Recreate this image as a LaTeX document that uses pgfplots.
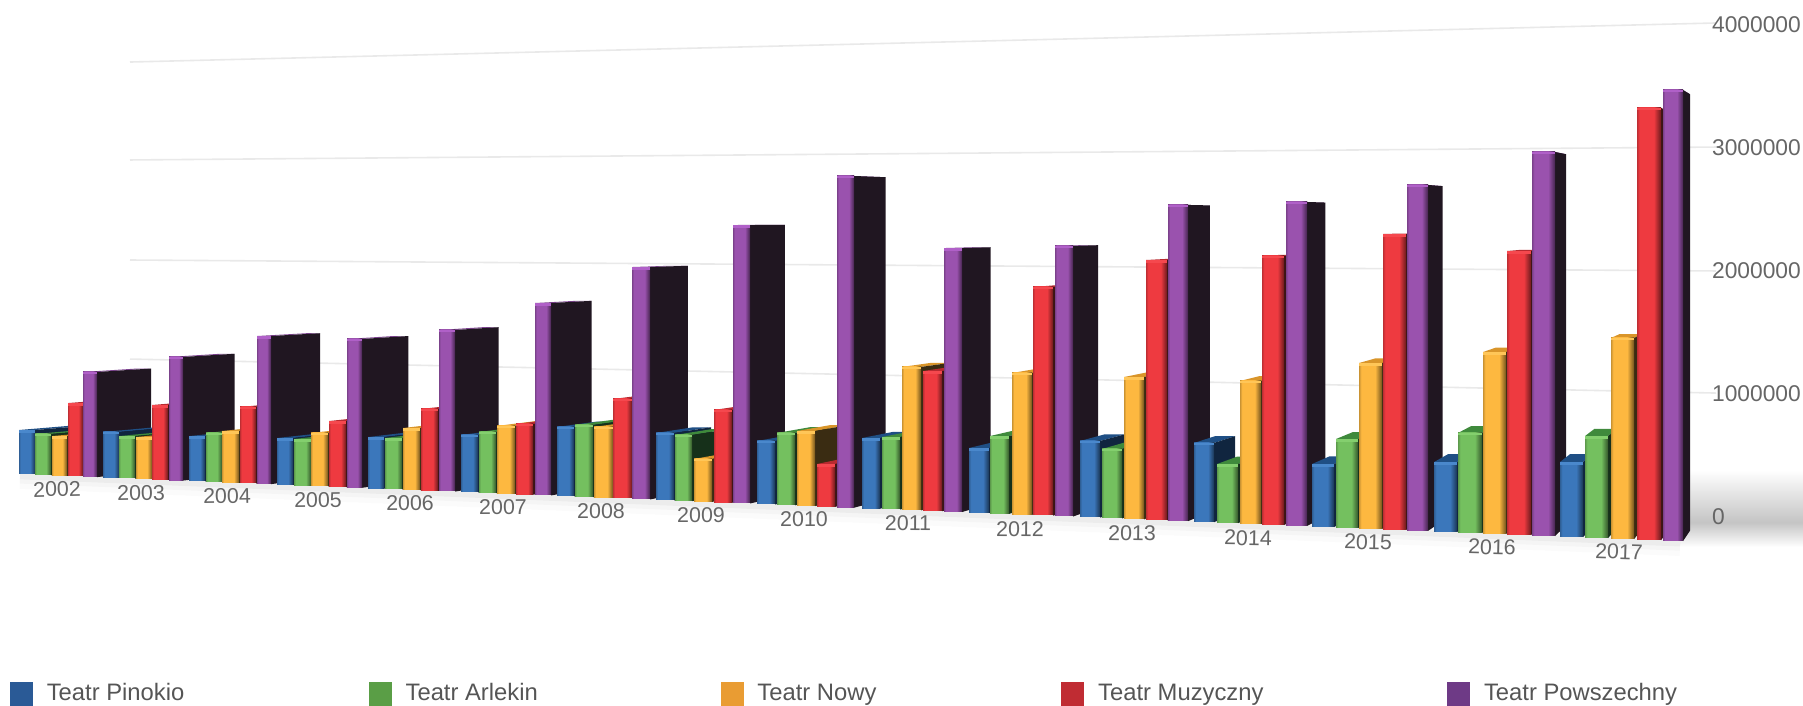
\documentclass[border=0pt]{standalone}
\usepackage{pgfplots}
\usepackage{fontspec}
\setmainfont{Liberation Sans}
\pgfplotsset{compat=1.18}
\definecolor{frontBc}{HTML}{3B77BB}\definecolor{frontGc}{HTML}{74C05F}\definecolor{frontYc}{HTML}{FDB840}\definecolor{frontRc}{HTML}{EE3A40}\definecolor{frontPc}{HTML}{9A52AE}
\definecolor{sideB}{HTML}{10253F}\definecolor{sideG}{HTML}{16301A}\definecolor{sideY}{HTML}{3A2C12}\definecolor{sideR}{HTML}{3A1515}\definecolor{sideP}{HTML}{201621}
\definecolor{topB}{HTML}{1F4F85}\definecolor{topG}{HTML}{3F8A3C}\definecolor{topY}{HTML}{D9952A}\definecolor{topR}{HTML}{B82A30}\definecolor{topP}{HTML}{7F4592}
\definecolor{capB}{HTML}{4A88CC}\definecolor{capG}{HTML}{84CF6E}\definecolor{capY}{HTML}{FFC658}\definecolor{capR}{HTML}{F5484E}\definecolor{capP}{HTML}{B060C8}
\definecolor{legB}{HTML}{2A5A96}\definecolor{legG}{HTML}{5A9E46}\definecolor{legY}{HTML}{E99C33}\definecolor{legR}{HTML}{C02C33}\definecolor{legP}{HTML}{6E3A86}
\definecolor{txt}{HTML}{666666}\definecolor{leg}{HTML}{555555}\definecolor{gridc}{HTML}{E9E9E9}
\newcommand\mkshade[1]{\pgfdeclarehorizontalshading{front#1}{100bp}{color(0bp)=(front#1c!80!black);color(25bp)=(front#1c!80!black);color(30bp)=(front#1c);color(60bp)=(front#1c);color(75bp)=(front#1c!45!black);color(100bp)=(front#1c!45!black)}}
\mkshade{B}\mkshade{G}\mkshade{Y}\mkshade{R}\mkshade{P}
\pgfdeclareverticalshading{bandshade}{100bp}{color(0bp)=(white);color(25bp)=(white);color(41bp)=(black!23);color(75bp)=(white);color(100bp)=(white)}
% one bar: series, left edge, right edge (pixels along the slanted category axis), top value
\newcommand\TBar[4]{%
 \edef\vbL{\fpeval{round((43-0.0404*(#2-20))*8117,1)}}%
 \edef\vbR{\fpeval{round((43-0.0404*(#3-20))*8117,1)}}%
 \edef\kk{\fpeval{0.022+0.012*#3/1700}}%
 \edef\dX{\fpeval{57-0.0296*#3}}%
 \edef\xE{\fpeval{round(#3+\dX,1)}}%
 \edef\xS{\fpeval{round(#2+\dX,1)}}%
 \edef\vE{\fpeval{round(#4+(517-#4/8117-220)*\kk*8117,1)}}%
 \edef\vEb{\fpeval{round(\vbR+(474+0.0404*(#3-20)-220)*\kk*8117,1)}}%
 \edef\vC{\fpeval{#4-2.5*8117}}%
 \addplot[forget plot,draw=none,fill=top#1] coordinates {(#2,#4)(\xS,\vE)(\xE,\vE)(#3,#4)} --cycle;
 \addplot[forget plot,draw=none,fill=side#1] coordinates {(#3,\vbR)(\xE,\vEb)(\xE,\vE)(#3,#4)} --cycle;
 \addplot[forget plot,draw=none,shade,shading=front#1] coordinates {(#2,\vbL)(#3,\vbL)(#3,#4)(#2,#4)} --cycle;
 \addplot[forget plot,draw=none,fill=cap#1] coordinates {(#2,\vC)(#3,\vC)(#3,#4)(#2,#4)} --cycle;
}
\newcommand\YearLabel[4]{\node[text=txt,rotate=#4,font=\fontsize{10.7}{12}\selectfont] at (axis cs:#2,#3) {#1};}
\begin{document}
\begin{tikzpicture}
\path[use as bounding box] (0,0) rectangle (901.5pt,353pt);
\begin{axis}[
 at={(0,0)},anchor=south west,
 scale only axis,width=901.5pt,height=353pt,
 xmin=0,xmax=1803,ymin=-1534113,ymax=4196489,
 clip=false,axis on top,axis line style={draw=none},tick style={draw=none},
 xtick=\empty,ytick={0,1000000,2000000,3000000,4000000},
 scaled y ticks=false,yticklabel pos=right,
 yticklabel style={anchor=west,xshift=-49pt,text=txt,font=\fontsize{11.4}{13}\selectfont,
   /pgf/number format/fixed,/pgf/number format/1000 sep={},/pgf/number format/assume math mode=true},
 legend columns=5,
 legend style={at={(axis cs:10,-1434000)},anchor=west,draw=none,fill=none,inner sep=0pt,outer sep=0pt,
   text=leg,font=\fontsize{11.9}{13}\selectfont,nodes={inner sep=0pt},
   /tikz/every odd column/.style={column sep=7pt},/tikz/every even column/.style={column sep=0pt}},
 legend cell align=left,
 legend image code/.code={\fill[#1] (0pt,-5.7pt) rectangle (11pt,5.7pt);},
]
\addlegendimage{legB}\addlegendentry{\makebox[161pt][l]{Teatr Pinokio}}
\addlegendimage{legG}\addlegendentry{\makebox[157.5pt][l]{Teatr Arlekin}}
\addlegendimage{legY}\addlegendentry{\makebox[152pt][l]{Teatr Nowy}}
\addlegendimage{legR}\addlegendentry{\makebox[174.5pt][l]{Teatr Muzyczny}}
\addlegendimage{legP}\addlegendentry{Teatr Powszechny}
% grid
\addplot[forget plot,gridc,line width=0.8pt] coordinates {(130,3693000)(1716,4010000)};
\addplot[forget plot,gridc,line width=0.8pt] coordinates {(130,2898000)(1716,3003000)};
\addplot[forget plot,gridc,line width=0.8pt] coordinates {(130,2086000)(1716,1997000)};
\addplot[forget plot,gridc,line width=0.8pt] coordinates {(130,1282000)(1716,1006000)};
% floor shadow
\addplot[forget plot,draw=none,shade,shading=bandshade] coordinates {(1680,381500)(1803,381500)(1803,-243500)(1680,-243500)} --cycle;
\addplot[forget plot,black,opacity=0.035,line width=3pt] coordinates {(20,330000)(1680,-215000)};
\addplot[forget plot,black,opacity=0.025,line width=6pt] coordinates {(20,320000)(1680,-225000)};
\addplot[forget plot,black,opacity=0.015,line width=10pt] coordinates {(20,310000)(1680,-235000)};
% bars, drawn from left to right
\TBar{B}{19}{35}{706000}\TBar{G}{35}{51}{674000}\TBar{Y}{52}{67}{657000}\TBar{R}{68}{83}{925000}\TBar{P}{83}{97}{1177000}
\TBar{B}{103}{119}{690000}\TBar{G}{119}{135}{657000}\TBar{Y}{136}{152}{649000}\TBar{R}{152}{168}{909000}\TBar{P}{169}{183}{1299000}
\TBar{B}{189}{205}{657000}\TBar{G}{206}{222}{682000}\TBar{Y}{222}{239}{698000}\TBar{R}{240}{256}{893000}\TBar{P}{257}{271}{1469000}
\TBar{B}{277}{293}{641000}\TBar{G}{294}{311}{633000}\TBar{Y}{311}{328}{682000}\TBar{R}{329}{346}{779000}\TBar{P}{347}{362}{1445000}
\TBar{B}{368}{384}{649000}\TBar{G}{385}{402}{641000}\TBar{Y}{403}{420}{722000}\TBar{R}{421}{438}{877000}\TBar{P}{439}{455}{1518000}
\TBar{B}{461}{478}{666000}\TBar{G}{479}{496}{690000}\TBar{Y}{497}{515}{739000}\TBar{R}{516}{533}{755000}\TBar{P}{535}{551}{1737000}
\TBar{B}{557}{574}{731000}\TBar{G}{575}{593}{747000}\TBar{Y}{594}{613}{731000}\TBar{R}{613}{632}{958000}\TBar{P}{632}{650}{2029000}
\TBar{B}{656}{674}{682000}\TBar{G}{675}{692}{666000}\TBar{Y}{694}{712}{471000}\TBar{R}{714}{732}{869000}\TBar{P}{733}{750}{2370000}
\TBar{B}{757}{775}{617000}\TBar{G}{777}{795}{682000}\TBar{Y}{797}{815}{698000}\TBar{R}{817}{835}{430000}\TBar{P}{837}{854}{2768000}
\TBar{B}{862}{880}{641000}\TBar{G}{882}{900}{649000}\TBar{Y}{902}{921}{1218000}\TBar{R}{923}{942}{1185000}\TBar{P}{944}{962}{2183000}
\TBar{B}{969}{989}{560000}\TBar{G}{990}{1009}{657000}\TBar{Y}{1012}{1032}{1169000}\TBar{R}{1033}{1053}{1867000}\TBar{P}{1055}{1073}{2200000}
\TBar{B}{1080}{1100}{617000}\TBar{G}{1102}{1122}{552000}\TBar{Y}{1124}{1144}{1136000}\TBar{R}{1146}{1167}{2086000}\TBar{P}{1168}{1188}{2533000}
\TBar{B}{1194}{1214}{601000}\TBar{G}{1217}{1238}{430000}\TBar{Y}{1240}{1261}{1104000}\TBar{R}{1262}{1284}{2119000}\TBar{P}{1286}{1307}{2557000}
\TBar{B}{1312}{1334}{430000}\TBar{G}{1336}{1358}{633000}\TBar{Y}{1359}{1382}{1250000}\TBar{R}{1383}{1406}{2297000}\TBar{P}{1407}{1428}{2695000}
\TBar{B}{1434}{1457}{446000}\TBar{G}{1458}{1482}{682000}\TBar{Y}{1483}{1506}{1339000}\TBar{R}{1507}{1531}{2159000}\TBar{P}{1532}{1555}{2963000}
\TBar{B}{1560}{1583}{446000}\TBar{G}{1585}{1608}{657000}\TBar{Y}{1611}{1634}{1453000}\TBar{R}{1637}{1661}{3320000}\TBar{P}{1663}{1683}{3466000}
\YearLabel{2002}{57}{227000}{1.5}\YearLabel{2003}{141}{195000}{1.2}\YearLabel{2004}{227}{170000}{1}\YearLabel{2005}{318}{138000}{0.8}
\YearLabel{2006}{410}{114000}{0.5}\YearLabel{2007}{503}{81000}{0.3}\YearLabel{2008}{601}{49000}{0}\YearLabel{2009}{701}{16000}{0}
\YearLabel{2010}{804}{-16000}{0}\YearLabel{2011}{908}{-49000}{-0.3}\YearLabel{2012}{1020}{-97000}{-0.5}\YearLabel{2013}{1132}{-130000}{-0.8}
\YearLabel{2014}{1248}{-170000}{-1}\YearLabel{2015}{1368}{-203000}{-1.2}\YearLabel{2016}{1492}{-244000}{-1.5}\YearLabel{2017}{1619}{-284000}{-1.8}
\end{axis}
\end{tikzpicture}
\end{document}
